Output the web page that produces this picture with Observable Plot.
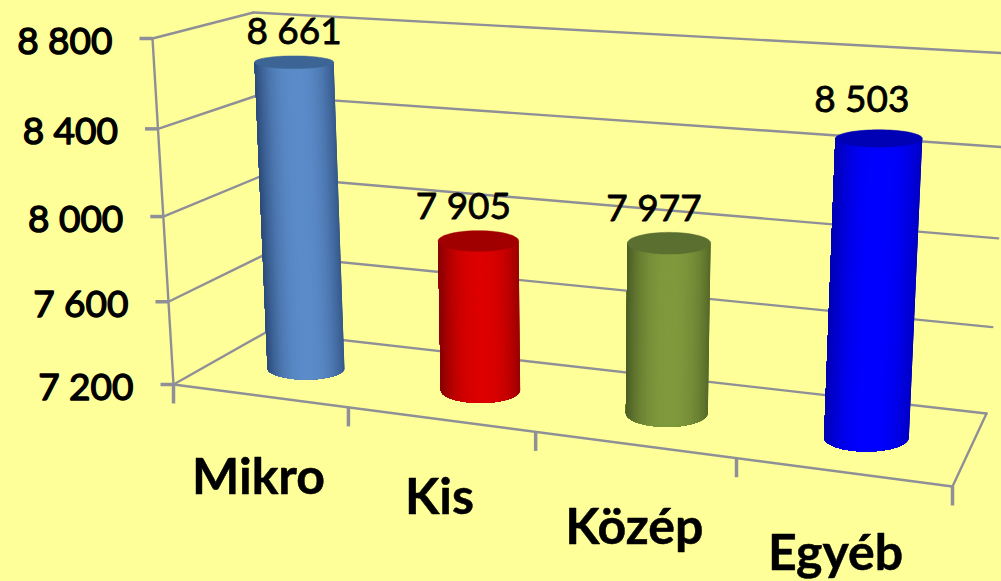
<!DOCTYPE html>
<html>
<head>
<meta charset="utf-8">
<style>
html,body{margin:0;padding:0;background:#FFFF99;overflow:hidden}
svg{display:block}
</style>
<script src="https://cdn.jsdelivr.net/npm/d3@7"></script>
<script src="https://cdn.jsdelivr.net/npm/@observablehq/plot@0.6"></script>
</head>
<body>
<script>
// ---- data ----
const categories = ["Mikro", "Kis", "Közép", "Egyéb"];
const values = [8661, 7905, 7977, 8503];
const yTicks = [7200, 7600, 8000, 8400, 8800];
const bright = ["#5B8BC9", "#DC0000", "#7F993C", "#0000FF"];
const edge = ["#2B4A78", "#860000", "#4A5C24", "#0000B0"];
const cap = ["#3C6494", "#A00000", "#5B6F30", "#0000B4"];

// ---- perspective calibration: unit square -> picture quad ----
function quad(p00, p10, p01, p11) {
  const [x0, y0] = p00, [x1, y1] = p10, [x3, y3] = p01, [x2, y2] = p11;
  const dx1 = x1 - x2, dx2 = x3 - x2, sx = x0 - x1 + x2 - x3;
  const dy1 = y1 - y2, dy2 = y3 - y2, sy = y0 - y1 + y2 - y3;
  const den = dx1 * dy2 - dx2 * dy1;
  const g = (sx * dy2 - dx2 * sy) / den, h = (dx1 * sy - sx * dy1) / den;
  const a = x1 - x0 + g * x1, b = x3 - x0 + h * x3, d = y1 - y0 + g * y1, e = y3 - y0 + h * y3;
  return (s, t) => {
    const w = g * s + h * t + 1;
    return [(a * s + b * t + x0) / w, (d * s + e * t + y0) / w];
  };
}
const V = d3.scaleLinear([7200, 8800], [0, 1]);
const C = d3.scaleLinear([0, 4], [0, 1]);
const B = d3.scaleLinear([0.5, 3.5], [0, 1]);
const backWall = quad([267, 331], [986, 413], [253, 12], [1010, 53]);
const sideWall = quad([173, 384], [267, 331], [152, 38], [253, 12]);
const frontA = [173, 384], frontB = [952, 486], farRight = [986, 413];
const frontEdge = t => {
  const f = t / ((1 - t) * 1.151 + t);
  return [frontA[0] + f * (frontB[0] - frontA[0]), frontA[1] + f * (frontB[1] - frontA[1])];
};
const barPlane = quad([305.5, 368], [866, 437], [292.4, 31.2], [881.3, 66.2]);

// ---- frame geometry ----
const grid = [];
yTicks.forEach(v => {
  grid.push({k: "s" + v, p: sideWall(0, V(v))}, {k: "s" + v, p: sideWall(1, V(v))});
  grid.push({k: "b" + v, p: backWall(0, V(v))}, {k: "b" + v, p: backWall(1, V(v))});
});
const frame = [
  {k: "axis", p: sideWall(0, 0)}, {k: "axis", p: sideWall(0, 1)},
  {k: "front", p: frontA}, {k: "front", p: frontB},
  {k: "right", p: frontB}, {k: "right", p: farRight}
];
const tickLen = 13, stubLen = 19;
const yTickRows = yTicks.map(v => ({v, p: sideWall(0, V(v))}));
const xTickRows = d3.range(0, 5).map(i => ({i, p: frontEdge(C(i))}));

// ---- cylinders ----
const baseRy = [11, 13, 14, 14];
function ring(i, v) {
  const [cx, cy] = barPlane(B(i + 0.5), V(v));
  const lo = barPlane(B(i + 0.5), 0), hi = barPlane(B(i + 0.5), 1);
  const rx = 38.5 * ((lo[1] - hi[1]) / 337) * (1 + (v - 7200) * 0.00002);
  const ry = baseRy[i] * (1 - (v - 7200) * 0.00029);
  return {cx, cy, rx, ry};
}
const strips = [], caps = [];
const N = 48;
values.forEach((v, i) => {
  const top = ring(i, v), bot = ring(i, 7200);
  const mix = d3.interpolateRgb(edge[i], bright[i]);
  const at = (r, a) => ({x: r.cx + r.rx * Math.cos(a), y: r.cy + r.ry * Math.sin(a)});
  // painted from right to left, each slice reaching to the left edge, so no seams show
  for (let n = 0; n < N; n++) {
    const a0 = Math.PI * n / N;
    const u = Math.cos(a0 + Math.PI / N / 2);
    const col = mix(1 - Math.pow(Math.abs(u - 0.05) / 1.05, 2.4));
    const k = i + "-" + n;
    strips.push({k, col, ...at(top, a0)}, {k, col, ...at(top, Math.PI)});
    for (let m = N; m >= n; m--) strips.push({k, col, ...at(bot, Math.PI * m / N)});
  }
  for (let n = 0; n < 72; n++) caps.push({k: i, col: cap[i], ...at(top, 2 * Math.PI * n / 72)});
});

const fmt = n => String(n).replace(/\B(?=(\d{3})+$)/g, " ");
const valueShift = [0, -15, -15, -17];
const valueRise = [18, 22, 22, 26];
const valueRows = values.map((v, i) => {
  const r = ring(i, v);
  return {t: fmt(v), x: r.cx + valueShift[i], y: r.cy - valueRise[i]};
});
const catShift = [-1, -1, 0, -7];
const catDrop = [98, 95, 99, 98];
const catRows = categories.map((c, i) => {
  const p = frontEdge(C(i + 0.5));
  return {t: c, x: p[0] + catShift[i], y: p[1] + catDrop[i]};
});

const gridColor = "#8F8F97";
const font = "Lato, Carlito, Calibri, sans-serif";
const svg = Plot.plot({
  width: 1001, height: 581, margin: 0,
  style: {background: "#FFFF99", fontFamily: font, color: "#000"},
  x: {domain: [0, 1001], range: [0, 1001], axis: null},
  y: {domain: [0, 581], range: [0, 581], axis: null},
  color: {type: "identity"},
  marks: [
    Plot.line(grid, {x: d => d.p[0], y: d => d.p[1], z: "k", stroke: gridColor, strokeWidth: 2.4}),
    Plot.line(frame, {x: d => d.p[0], y: d => d.p[1], z: "k", stroke: gridColor, strokeWidth: 2.4}),
    Plot.link(yTickRows, {x1: d => d.p[0] - tickLen, x2: d => d.p[0], y1: d => d.p[1], y2: d => d.p[1], stroke: gridColor, strokeWidth: 3.5}),
    Plot.link(xTickRows, {x1: d => d.p[0], x2: d => d.p[0], y1: d => d.p[1], y2: d => d.p[1] + stubLen, stroke: gridColor, strokeWidth: 3.5}),
    Plot.line(strips, {x: "x", y: "y", z: "k", fill: "col", stroke: "none"}),
    Plot.line(caps, {x: "x", y: "y", z: "k", fill: "col", stroke: "col", strokeWidth: 0.5}),
    Plot.text(yTickRows, {x: d => d.p[0] - tickLen - 27, y: d => d.p[1] + 15.5, text: d => fmt(d.v), textAnchor: "end", lineAnchor: "bottom", fontSize: 37, fill: "#000", stroke: "#000", strokeWidth: 1.4}),
    Plot.text(valueRows, {x: "x", y: "y", text: "t", textAnchor: "middle", lineAnchor: "bottom", fontSize: 37, fill: "#000", stroke: "#000", strokeWidth: 0.8}),
    Plot.text(catRows, {x: "x", y: "y", text: "t", textAnchor: "middle", lineAnchor: "bottom", fontSize: 50, fontWeight: 700, fill: "#000", stroke: "#000", strokeWidth: 0.5})
  ]
});
document.body.appendChild(svg);
</script>
</body>
</html>
